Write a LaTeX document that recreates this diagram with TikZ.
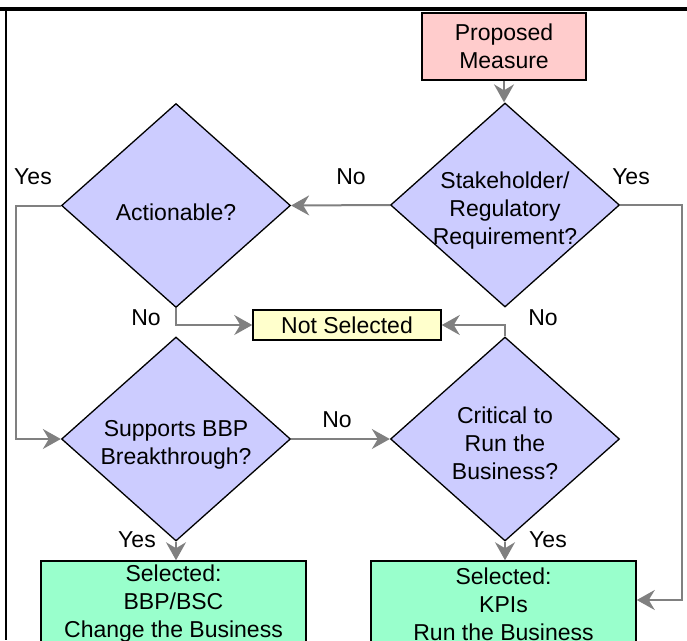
\documentclass[tikz,border=0pt]{standalone}
\usepackage{fontspec}
\setmainfont{Liberation Sans}
\usetikzlibrary{shapes.geometric,arrows.meta}
\definecolor{pinkfill}{HTML}{FFCCCC}
\definecolor{diafill}{HTML}{CCCCFF}
\definecolor{yelfill}{HTML}{FFFFCC}
\definecolor{grnfill}{HTML}{99FFCC}
\definecolor{connc}{HTML}{808080}
\begin{document}
\begin{tikzpicture}[x=1pt,y=-1pt,font=\fontsize{23}{28}\selectfont,
  box/.style={draw=black,line width=1.5pt,inner sep=0pt,align=center},
  dia/.style={diamond,draw=black,line width=1.3pt,fill=diafill,minimum width=229pt,minimum height=204pt,inner sep=0pt},
  txt/.style={align=center,inner sep=0pt},
  conn/.style={draw=connc,line width=2pt,-{Stealth[length=18pt,width=20pt,inset=6pt,fill=connc]}},
  lab/.style={inner sep=0pt}]
\useasboundingbox (0,0) rectangle (687,640);
\clip (0,0) rectangle (687,640);
% frame
\draw[line width=4.5pt] (0,9) -- (687,9);
\draw[line width=2.5pt] (6,9) -- (6,640);
% nodes
\node[box,fill=pinkfill,minimum width=164pt,minimum height=67pt] (pm) at (504,46.5) {Proposed\\Measure};
\node[dia] (sr) at (505,205) {};
\node[dia] (ac) at (176,205.5) {};
\node[dia] (sb) at (176,439) {};
\node[dia] (cr) at (505,439) {};
\node[txt] (srt) at (505,211) {Stakeholder/\\Regulatory\\Requirement?};
\node[txt] (act) at (176,212) {Actionable?};
\node[txt] (sbt) at (176,445) {Supports BBP\\Breakthrough?};
\node[txt] (crt) at (505,443) {Critical to\\Run the\\Business?};
\node[box,fill=yelfill,minimum width=188pt,minimum height=30pt] (ns) at (347,325) {Not Selected};
\node[box,fill=grnfill,minimum width=265pt,minimum height=86pt] (bbp) at (173.5,604) {Selected:\\BBP/BSC\\Change the Business};
\node[box,fill=grnfill,minimum width=265pt,minimum height=86pt] (kpi) at (503.5,604) {Selected:\\KPIs\\Run the Business};
% bend points
\coordinate (rr) at (682,205);
\coordinate (ll) at (16,205.5);
% connectors
\draw[conn] (pm.south) -- (pm.south |- sr.north);
\draw[conn] (sr.west) -- (ac.east);
\draw[conn] (sr.east) -- (rr) |- ([yshift=4pt]kpi.east);
\draw[conn] (ac.west) -- (ll) |- (sb.west);
\draw[conn] (ac.south) |- (ns.west);
\draw[conn] (cr.north) |- (ns.east);
\draw[conn] (sb.east) -- (cr.west);
\draw[conn] (sb.south) -- (sb.south |- bbp.north);
\draw[conn] (cr.south) -- (cr.south |- kpi.north);
% labels
\node[lab] (l1) at (33,177) {Yes};
\node[lab] (l2) at (351,177) {No};
\node[lab] (l3) at (631,177) {Yes};
\node[lab] (l4) at (146,318) {No};
\node[lab] (l5) at (543,318) {No};
\node[lab] (l6) at (337,420) {No};
\node[lab] (l7) at (137,540) {Yes};
\node[lab] (l8) at (548,540) {Yes};
\end{tikzpicture}
\end{document}
